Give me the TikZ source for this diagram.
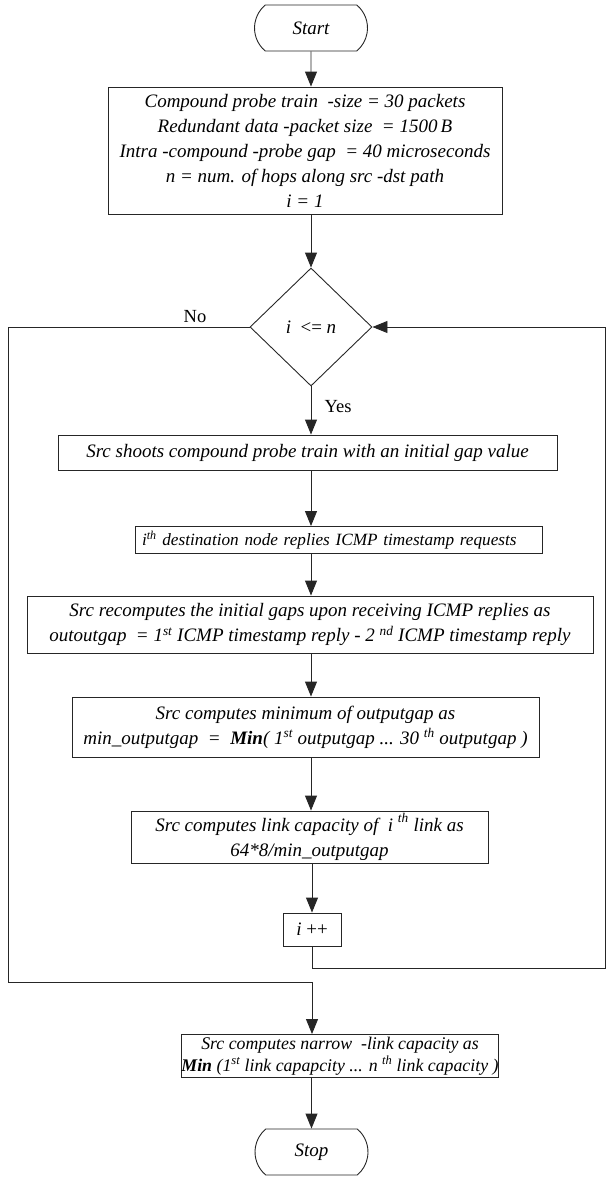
\documentclass[tikz,border=0pt]{standalone}
\usepackage{fontspec}
\setmainfont{Liberation Serif}
\usetikzlibrary{arrows.meta,shapes.geometric,shapes.misc}
\begin{document}
\begin{tikzpicture}[x=1pt,y=-1pt,
  every node/.style={font=\fontsize{19}{25}\selectfont\itshape, inner sep=0pt},
  box/.style={draw=black!85, line width=0.9pt, align=center},
  term/.style={draw=black!85, line width=0.9pt, rounded rectangle, rounded rectangle arc length=100},
  dia/.style={draw=black!85, line width=0.9pt, diamond},
  lab/.style={font=\fontsize{18.5}{23}\selectfont\upshape},
  ln/.style={draw=black!85, line width=0.9pt},
  arr/.style={ln, -{Triangle[length=15pt,width=12pt]}}]
\useasboundingbox (0,0) rectangle (608,1178);

\node[term, minimum width=113, minimum height=46] (start) at (311,28) {Start};
\node[box, minimum width=394, minimum height=127] (b1) at (305,150.5)
  {Compound probe train \ -size = 30 packets\\
   Redundant data -packet size \ = 1500\,B\\
   Intra -compound -probe gap \ = 40 microseconds\\
   n = num. of hops along src -dst path\\
   i = 1};
\node[dia, minimum width=122, minimum height=118] (dec) at (311,327) {i \ \textup{<=} n};
\node[box, minimum width=499, minimum height=35] (bA) at (307.5,452.5)
  {Src shoots compound probe train with an initial gap value};
\node[box, minimum width=407, minimum height=27, text width=393, align=left, inner xsep=7pt,
      font=\fontsize{17.2}{22}\selectfont\itshape] (bB) at (338.5,540)
  {i\textsuperscript{th} destination node replies ICMP timestamp requests};
\node[box, minimum width=566, minimum height=57] (bC) at (310,624.5)
  {Src recomputes the initial gaps upon receiving ICMP replies as\\
   outoutgap \ = 1\textsuperscript{st} ICMP timestamp reply - 2 \textsuperscript{nd} ICMP timestamp reply};
\node[box, minimum width=467, minimum height=60] (bD) at (305.5,727)
  {Src computes minimum of outputgap as\\
   min\_outputgap \ = \ \textbf{Min}( 1\textsuperscript{st} outputgap ... 30 \textsuperscript{th} outputgap )};
\node[box, minimum width=357, minimum height=52] (bE) at (309.5,837)
  {Src computes link capacity of \ i \raisebox{2pt}{\textsuperscript{th}} link as\\
   64*8/min\_outputgap};
\node[box, minimum width=58, minimum height=33] (inc) at (312,929.5) {i \textup{++}};
\node[box, minimum width=314, minimum height=43, font=\fontsize{17.8}{22}\selectfont\itshape] (fin) at (340,1056)
  {Src computes narrow \ -link capacity as\\
   \textbf{Min} (1\textsuperscript{st} link capapcity ... n \textsuperscript{th} link capacity )};
\node[term, minimum width=113, minimum height=46] (stop) at (311.5,1152) {Stop};

\node[lab] (no) at (195,317) {No};
\node[lab] (yes) at (338,407) {Yes};

\coordinate (rc) at (605,968);
\coordinate (lc) at (8,982);

\draw[arr] (start) -- (b1.north -| start.south);
\draw[arr] (b1.south -| dec.north) -- (dec.north);
\draw[arr] (dec.south) -- (bA.north -| dec.south);
\draw[arr] (bA.south -| dec.south) -- (bB.north -| dec.south);
\draw[arr] (bB.south -| dec.south) -- (bC.north -| dec.south);
\draw[arr] (bC.south -| dec.south) -- (bD.north -| dec.south);
\draw[arr] (bD.south -| dec.south) -- (bE.north -| dec.south);
\draw[arr] (bE.south -| inc.north) -- (inc.north);
\draw[arr] (inc.south) |- (rc) |- (dec.east);
\draw[arr] (dec.west) -| (lc) -| (fin.north -| inc.south);
\draw[arr] (fin.south -| stop.north) -- (stop.north);
\end{tikzpicture}
\end{document}
